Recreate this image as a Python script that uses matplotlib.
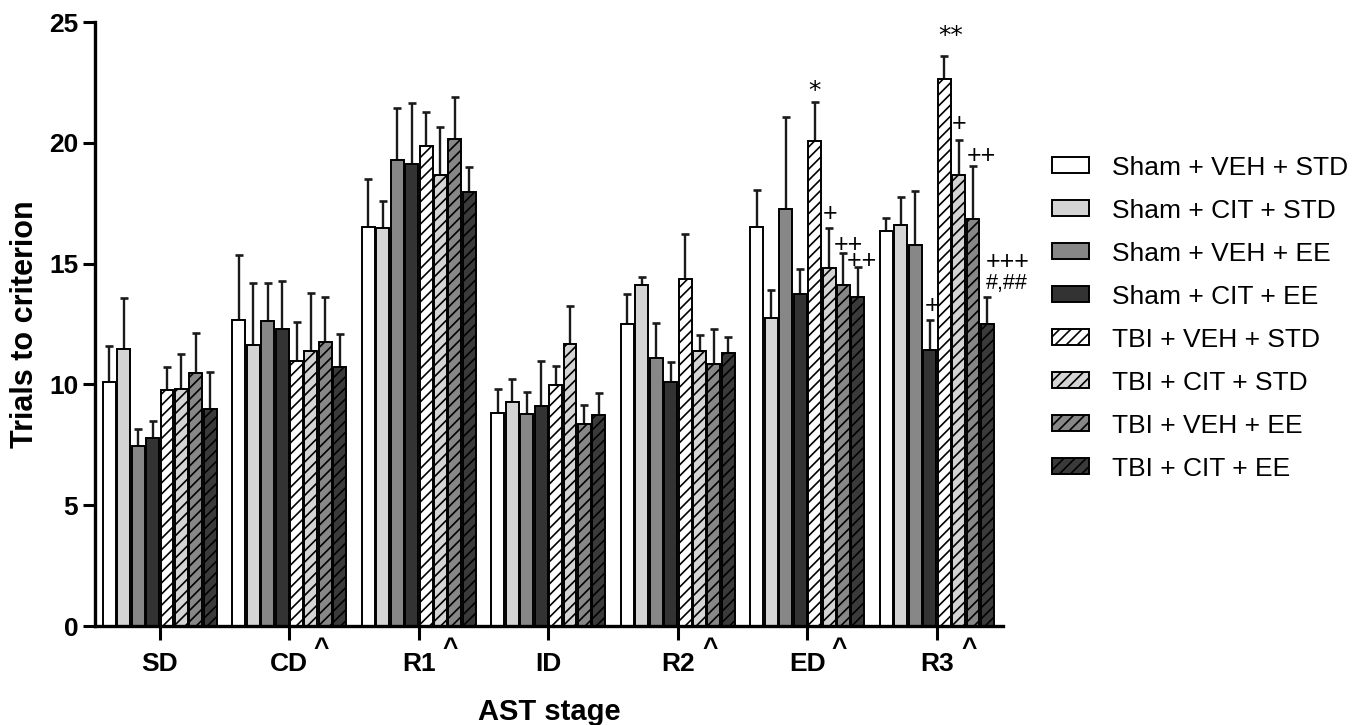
import matplotlib
matplotlib.use("Agg")
import matplotlib.pyplot as plt
import numpy as np

plt.rcParams['font.family'] = ['Liberation Sans', 'DejaVu Sans']
plt.rcParams['hatch.linewidth'] = 1.2

# ---------------- data ----------------
stages = ["SD", "CD", "R1", "ID", "R2", "ED", "R3"]
series_labels = ["Sham + VEH + STD", "Sham + CIT + STD", "Sham + VEH + EE", "Sham + CIT + EE",
                 "TBI + VEH + STD", "TBI + CIT + STD", "TBI + VEH + EE", "TBI + CIT + EE"]

sham_veh_std_mean = [10.09, 12.67, 16.53, 8.80, 12.50, 16.52, 16.37]
sham_cit_std_mean = [11.47, 11.62, 16.47, 9.29, 14.11, 12.76, 16.61]
sham_veh_ee_mean  = [7.44, 12.62, 19.29, 8.77, 11.10, 17.27, 15.77]
sham_cit_ee_mean  = [7.77, 12.29, 19.12, 9.12, 10.12, 13.76, 11.44]
tbi_veh_std_mean  = [9.75, 10.96, 19.85, 9.96, 14.38, 20.07, 22.65]
tbi_cit_std_mean  = [9.80, 11.40, 18.67, 11.68, 11.38, 14.81, 18.66]
tbi_veh_ee_mean   = [10.47, 11.77, 20.14, 8.35, 10.86, 14.13, 16.84]
tbi_cit_ee_mean   = [8.97, 10.73, 17.95, 8.73, 11.28, 13.60, 12.49]

sham_veh_std_sem = [1.51, 2.70, 1.96, 0.99, 1.23, 1.53, 0.52]
sham_cit_std_sem = [2.09, 2.59, 1.13, 0.95, 0.34, 1.13, 1.14]
sham_veh_ee_sem  = [0.70, 1.56, 2.14, 0.91, 1.45, 3.79, 2.24]
sham_cit_ee_sem  = [0.73, 1.99, 2.51, 1.85, 0.82, 1.00, 1.21]
tbi_veh_std_sem  = [0.98, 1.64, 1.44, 0.81, 1.84, 1.63, 0.94]
tbi_cit_std_sem  = [1.44, 2.38, 1.98, 1.58, 0.66, 1.65, 1.46]
tbi_veh_ee_sem   = [1.64, 1.85, 1.76, 0.80, 1.45, 1.30, 2.20]
tbi_cit_ee_sem   = [1.53, 1.36, 1.04, 0.91, 0.70, 1.25, 1.14]

means = [sham_veh_std_mean, sham_cit_std_mean, sham_veh_ee_mean, sham_cit_ee_mean,
         tbi_veh_std_mean, tbi_cit_std_mean, tbi_veh_ee_mean, tbi_cit_ee_mean]
sems = [sham_veh_std_sem, sham_cit_std_sem, sham_veh_ee_sem, sham_cit_ee_sem,
        tbi_veh_std_sem, tbi_cit_std_sem, tbi_veh_ee_sem, tbi_cit_ee_sem]

# stages marked with "^"
caret_stages = ["CD", "R1", "R2", "ED", "R3"]

# significance marks: (stage, series index, text)
sig_marks = [("ED", 4, "*"), ("ED", 5, "+"), ("ED", 6, "++\n  ++"),
             ("R3", 3, "+"), ("R3", 4, "**"), ("R3", 5, "+"), ("R3", 6, "++"),
             ("R3", 7, "+++"), ("R3", 7, "#,##")]

# ---------------- styles ----------------
fills = ["#ffffff", "#d4d4d4", "#878787", "#333333",
         "#ffffff", "#d4d4d4", "#878787", "#3a3a3a"]
hatches = [None, None, None, None, "///", "///", "///", "///"]
# offsets (points) of each mark relative to top of its error bar, font, size, ha, va
mark_style = {
    ("ED", 4, "*"): (0, 8, "DejaVu Sans", 18, "center", "center"),
    ("ED", 5, "+"): (1, 10.5, "Liberation Sans", 18, "center", "center"),
    ("ED", 6, "++\n  ++"): (-7.3, 14.8, "Liberation Sans", 18, "left", "top"),
    ("R3", 3, "+"): (1.5, 10.4, "Liberation Sans", 18, "center", "center"),
    ("R3", 4, "**"): (4.8, 14.6, "DejaVu Sans", 18, "center", "center"),
    ("R3", 5, "+"): (0, 11.5, "Liberation Sans", 18, "center", "center"),
    ("R3", 6, "++"): (5.8, 7.2, "Liberation Sans", 18, "center", "center"),
    ("R3", 7, "+++"): (14.4, 25, "Liberation Sans", 18, "center", "center"),
    ("R3", 7, "#,##"): (14.2, 9.6, "Liberation Sans", 15.5, "center", "center"),
}

W, H = 1372, 725
fig = plt.figure(figsize=(W / 100, H / 100), dpi=100)
ax = fig.add_axes([95 / W, (H - 626) / H, (1003 - 95) / W, (626 - 22) / H])

n_series = len(series_labels)
group_x = np.arange(len(stages))
step = 0.1114
bar_w = 0.1

bar_handles = []
for i in range(n_series):
    xs = group_x + (i - (n_series - 1) / 2) * step
    b = ax.bar(xs, means[i], width=bar_w, color=fills[i], edgecolor="black",
               linewidth=1.4, hatch=hatches[i], zorder=2, label=series_labels[i])
    bar_handles.append(b)
    ax.errorbar(xs, means[i], yerr=[np.zeros(len(stages)), sems[i]], fmt="none",
                ecolor="#1a1a1a", elinewidth=1.7, capsize=2.8, capthick=1.9, zorder=1)

# significance marks
for stage, si, txt in sig_marks:
    g = stages.index(stage)
    x = g + (si - (n_series - 1) / 2) * step
    y = means[si][g] + sems[si][g]
    dx, dy, fam, fs, ha, va = mark_style[(stage, si, txt)]
    ax.annotate(txt, (x, y), xytext=(dx, dy), textcoords="offset points",
                ha=ha, va=va, ma="left", linespacing=0.59,
                fontsize=fs, family=fam, color="black")

# carets under the axis
for stage in caret_stages:
    g = stages.index(stage)
    ax.text(g + 0.245, -0.0175, "^", transform=ax.get_xaxis_transform(),
            ha="center", va="top", fontsize=19, fontweight="bold")

ax.set_xlim(-0.5, 6.51)
ax.set_ylim(0, 25)
ax.set_yticks([0, 5, 10, 15, 20, 25])
ax.set_xticks(group_x)
ax.set_xticklabels(stages)
for s in ["top", "right"]:
    ax.spines[s].set_visible(False)
for s in ["left", "bottom"]:
    ax.spines[s].set_linewidth(2.4)
ax.tick_params(axis="y", length=9, width=2.2, pad=3, labelsize=19)
ax.tick_params(axis="x", length=10, width=2.2, pad=9, labelsize=19)
for lab in ax.get_xticklabels() + ax.get_yticklabels():
    lab.set_fontweight("bold")

ax.set_xlabel("AST stage", fontsize=21, fontweight="bold")
ax.xaxis.set_label_coords(0.5, -0.119)
ax.set_ylabel("Trials to criterion", fontsize=22, fontweight="bold")
ax.yaxis.set_label_coords(-0.0605, 0.5)

fig.legend(handles=bar_handles, labels=series_labels, loc="upper left",
           bbox_to_anchor=(1052 / W, 1 - 155.6 / H), frameon=False, fontsize=19,
           borderpad=0, borderaxespad=0, handlelength=1.40, handleheight=0.57,
           handletextpad=0.87, labelspacing=0.72)

fig.savefig("out.png", dpi=100)
